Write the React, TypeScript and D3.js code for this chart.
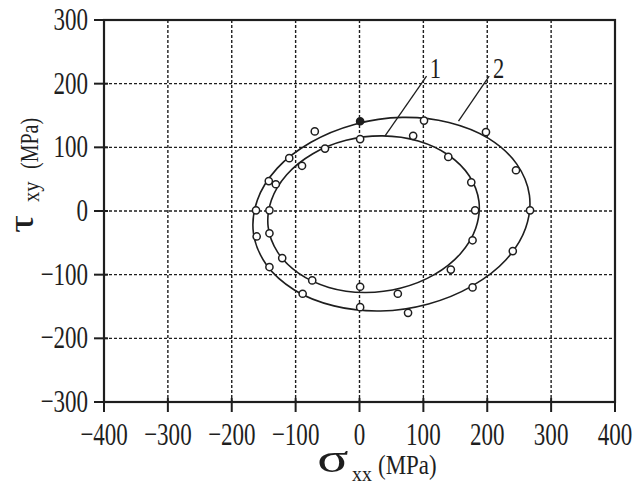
import React from "react";
import * as d3 from "d3";

// ---- data ----
const xTicks = [-400, -300, -200, -100, 0, 100, 200, 300, 400];
const yTicks = [-300, -200, -100, 0, 100, 200, 300];
const xGrid = [-300, -200, -100, 0, 100, 200, 300];
const yGrid = [-200, -100, 0, 100, 200];

// curve 1 (inner yield locus)
const curve1X = [187, 172, 139, 92, 36, -21, -73, -114, -138, -143, -128, -95, -48, 8, 65, 117, 158, 182];
const curve1Y = [15, 55, 88, 110, 118, 111, 90, 57, 17, -25, -65, -98, -120, -128, -121, -100, -67, -27];

// curve 2 (outer yield locus)
const curve2X = [266, 246, 202, 140, 67, -8, -76, -129, -160, -166, -146, -102, -40, 33, 108, 176, 229, 260];
const curve2Y = [25, 74, 114, 139, 147, 136, 108, 67, 17, -35, -84, -124, -149, -157, -146, -118, -77, -27];

// experimental points
const pointX = [1, -70, 1, -54, -110, -90, -142, -131, -162, -141, -141, -161, -121, -141, -74, -89, 1, 1, 101, 84, 198, 139, 245, 175, 181, 267, 177, 240, 143, 177, 60, 76];
const pointY = [141, 125, 113, 98, 83, 71, 47, 42, 1, 1, -35, -40, -74, -88, -109, -130, -119, -151, 142, 118, 124, 85, 64, 45, 1, 1, -46, -63, -92, -120, -130, -160];
const pointFilled = [true, false, false, false, false, false, false, false, false, false, false, false, false, false, false, false, false, false, false, false, false, false, false, false, false, false, false, false, false, false, false, false];

// curve labels and leader lines
const curveLabels = ["1", "2"];
const labelX = [110, 209];
const labelY = [209, 209];
const leaderX1 = [105, 203];
const leaderY1 = [212, 212];
const leaderX2 = [40, 155];
const leaderY2 = [118, 141];

const INK = "#1e1e1e";
const FONT = "'Liberation Serif', 'DejaVu Serif', serif";

function CText(props: any) {
  const { x, y, sx = 0.72, size = 32, anchor = "middle", children } = props;
  return (
    <text
      transform={`translate(${x},${y}) scale(${sx},1)`}
      fontSize={size}
      fontFamily={FONT}
      textAnchor={anchor}
      fill={INK}
    >
      {children}
    </text>
  );
}

export default function App() {
  const x = d3.scaleLinear().domain([-400, 400]).range([104, 615]);
  const y = d3.scaleLinear().domain([-300, 300]).range([402, 20]);

  const line = d3
    .line<[number, number]>()
    .x((d) => x(d[0]))
    .y((d) => y(d[1]))
    .curve(d3.curveCatmullRomClosed.alpha(0.5));

  const c1 = line(curve1X.map((v, i) => [v, curve1Y[i]] as [number, number])) || "";
  const c2 = line(curve2X.map((v, i) => [v, curve2Y[i]] as [number, number])) || "";

  const x0 = x(-400), x1 = x(400), y0 = y(-300), y1 = y(300);

  return (
    <svg width={634} height={487} style={{ position: "absolute", left: 0, top: 0, background: "#fff" }}>
      <rect width={634} height={487} fill="#fff" />
      {/* grid */}
      {xGrid.map((t) => (
        <line key={"gx" + t} x1={x(t)} x2={x(t)} y1={y1} y2={y0} stroke={INK} strokeWidth={1.4} strokeDasharray="3 2" />
      ))}
      {yGrid.map((t) => (
        <line key={"gy" + t} x1={x0} x2={x1} y1={y(t)} y2={y(t)} stroke={INK} strokeWidth={1.4} strokeDasharray="3 2" />
      ))}
      {/* frame */}
      <rect x={x0} y={y1} width={x1 - x0} height={y0 - y1} fill="none" stroke={INK} strokeWidth={2.2} />
      {/* ticks */}
      {xTicks.map((t) => (
        <line key={"tx" + t} x1={x(t)} x2={x(t)} y1={y0 - 4} y2={y0 + 10} stroke={INK} strokeWidth={2} />
      ))}
      {yTicks.map((t) => (
        <line key={"ty" + t} x1={x0 - 10} x2={x0 + 4} y1={y(t)} y2={y(t)} stroke={INK} strokeWidth={2} />
      ))}
      {/* tick labels */}
      {xTicks.map((t) => (
        <CText key={"lx" + t} x={x(t)} y={445}>
          {t < 0 ? "\u2212" + Math.abs(t) : String(t)}
        </CText>
      ))}
      {yTicks.map((t) => (
        <CText key={"ly" + t} x={88} y={y(t) + 10} anchor="end">
          {t < 0 ? "\u2212" + Math.abs(t) : String(t)}
        </CText>
      ))}
      {/* curves */}
      <path d={c2} fill="none" stroke={INK} strokeWidth={1.6} />
      <path d={c1} fill="none" stroke={INK} strokeWidth={1.6} />
      {/* leader lines */}
      {curveLabels.map((l, i) => (
        <g key={"cl" + l}>
          <line x1={x(leaderX1[i])} y1={y(leaderY1[i])} x2={x(leaderX2[i])} y2={y(leaderY2[i])} stroke={INK} strokeWidth={1.3} />
          <CText x={x(labelX[i])} y={y(labelY[i])} anchor="start" size={30} sx={0.75}>
            {l}
          </CText>
        </g>
      ))}
      {/* points */}
      {pointX.map((v, i) => (
        <circle
          key={"p" + i}
          cx={x(v)}
          cy={y(pointY[i])}
          r={3.6}
          fill={pointFilled[i] ? INK : "#fff"}
          stroke={INK}
          strokeWidth={1.5}
        />
      ))}
      {/* x title */}
      <CText x={333} y={472} size={40} sx={1.45}>σ</CText>
      <CText x={362} y={481} size={22} sx={0.9}>xx</CText>
      <CText x={378} y={474} size={27} sx={0.85} anchor="start">(MPa)</CText>
      {/* y title */}
      <g transform="translate(33,233) rotate(-90)">
        <text transform="scale(1.25,1)" fontSize={36} fontFamily={FONT} fill={INK} x={0} y={0}>τ</text>
        <text transform="translate(31,6) scale(0.85,1)" fontSize={24} fontFamily={FONT} fill={INK}>xy</text>
        <text transform="translate(64,5) scale(0.8,1)" fontSize={25} fontFamily={FONT} fill={INK}>(MPa)</text>
      </g>
    </svg>
  );
}
